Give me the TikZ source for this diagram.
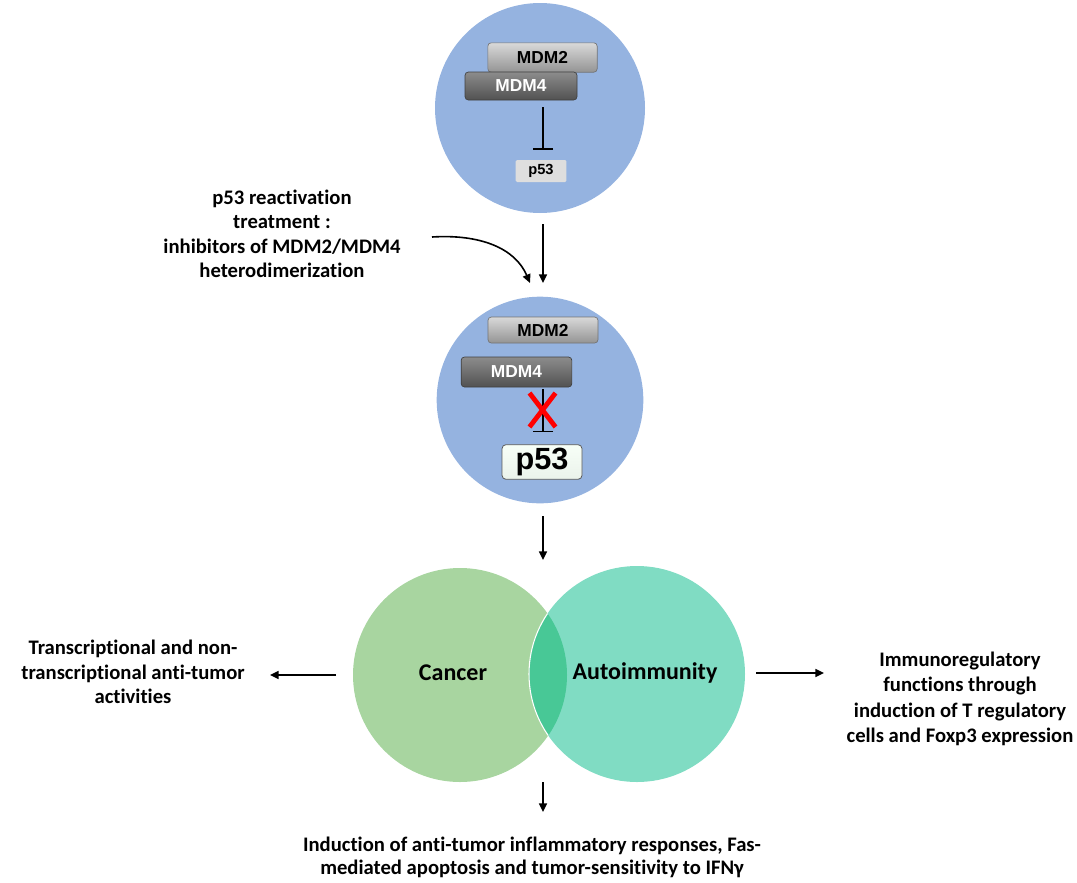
\documentclass[tikz,border=0pt]{standalone}
\usepackage{fontspec}
\setmainfont{Carlito}[Ligatures=NoCommon]
\newfontfamily\arialf{Liberation Sans}
\usetikzlibrary{arrows.meta,calc}
\definecolor{cellblue}{HTML}{95B3E0}
\definecolor{cancerg}{HTML}{A8D5A0}
\definecolor{autog}{HTML}{80DCC3}
\definecolor{interg}{HTML}{48C896}
\tikzset{
  lbl/.style={font=\bfseries\fontsize{15.5}{18.4}\selectfont, align=center, text=black},
  rlbl/.style={font=\bfseries\fontsize{15.5}{19}\selectfont, align=center, text=black},
  blbl/.style={font=\bfseries\fontsize{15.5}{17.4}\selectfont, align=center, text=black},
  big/.style={font=\bfseries\fontsize{18}{22}\selectfont, text=black},
  mdmtwo/.style={rounded corners=2.5pt, draw=black!55, line width=0.5pt, top color=black!15, bottom color=black!42,
     font=\arialf\bfseries\fontsize{13}{14}\selectfont, text=black, inner sep=0pt},
  mdmfour/.style={rounded corners=2.5pt, draw=black!75, line width=0.5pt, top color=black!45, bottom color=black!68,
     font=\arialf\bfseries\fontsize{13}{14}\selectfont, text=white, inner sep=0pt},
  ptop/.style={fill=black!13, rounded corners=1pt, font=\arialf\bfseries\fontsize{11}{12}\selectfont, inner sep=0pt,
     minimum width=38pt, minimum height=16.5pt},
  pbig/.style={rounded corners=3pt, draw=black!65, line width=0.6pt, top color=green!3!white, bottom color=green!40!black!8!white,
     font=\arialf\bfseries\fontsize{23}{25}\selectfont, inner sep=0pt, minimum width=60pt, minimum height=26pt},
  arr/.style={line width=1.2pt, -{Triangle[length=6.5pt,width=6pt]}},
  inh/.style={line width=1.2pt, -{Bar[width=15pt,line width=1.2pt]}}
}
\begin{document}
\begin{tikzpicture}[x=0.75pt,y=-0.75pt]
\useasboundingbox (0,0) rectangle (1077,882);
% top cell
\fill[cellblue] (540,108) circle[radius=78.75pt];
\node[mdmtwo, minimum width=82pt, minimum height=22pt] (m2a) at (542.5,57.5) {MDM2};
\node[mdmfour, minimum width=84pt, minimum height=21pt] (m4a) at (521,86) {MDM4};
\node[ptop] (p53a) at (541,171) {p53};
\coordinate (ia) at (543,107);
\draw[inh, shorten >=7.5pt] (ia) -- (p53a.north -| ia);
% second cell
\fill[cellblue] (540,400) circle[radius=77.5pt];
\node[mdmtwo, minimum width=82.5pt, minimum height=19.5pt] (m2b) at (543,330) {MDM2};
\node[mdmfour, minimum width=83pt, minimum height=22.5pt] (m4b) at (516.5,372) {MDM4};
\node[pbig] (p53b) at (542,462) {p53};
\coordinate (ib) at (543,389);
\draw[inh, shorten >=9pt] (ib) -- (p53b.north -| ib);
\coordinate (xc) at (542.5,410);
\draw[red, line width=3.6pt] ($(xc)+(-13,-17)$) -- ($(xc)+(13,17)$);
\draw[red, line width=3.6pt] ($(xc)+(13,-17)$) -- ($(xc)+(-13,17)$);
% arrows between cells
\coordinate (c1b) at (543,224);
\coordinate (c2t) at (543,283);
\draw[arr] (c1b) -- (c2t);
\node[lbl] (treat) at (282,234) {p53 reactivation\\treatment :\\inhibitors of MDM2/MDM4\\heterodimerization};
\coordinate (cs) at (432,237);
\coordinate (ce) at (530,283);
\draw[arr] (cs) .. controls (480,234) and (515,248) .. (ce);
% Venn
\fill[cancerg] (460,675) circle[radius=80.25pt];
\fill[autog] (637,674) circle[radius=81pt];
\begin{scope}
  \clip (460,675) circle[radius=80.25pt];
  \fill[interg] (637,674) circle[radius=81pt];
  \draw[white, line width=0.8pt] (637,674) circle[radius=81pt];
\end{scope}
\node[big] (cancer) at (453,673) {Cancer};
\node[big] (auto) at (645,673) {Autoimmunity};
\coordinate (c2b) at (543,516);
\coordinate (vt) at (543,560);
\draw[arr] (c2b) -- (vt);
% outputs
\node[lbl] (left) at (133,672) {Transcriptional and non-\\transcriptional anti-tumor\\activities};
\node[rlbl] (right) at (960,699) {Immunoregulatory\\functions through\\induction of T regulatory\\cells and Foxp3 expression};
\node[blbl] (bottom) at (532,857) {Induction of anti-tumor inflammatory responses, Fas-\\mediated apoptosis and tumor-sensitivity to IFNγ};
\coordinate (la) at (336,675);
\coordinate (lb) at (270,675);
\draw[arr] (la) -- (lb);
\coordinate (ra) at (756,673);
\coordinate (rb) at (824,673);
\draw[arr] (ra) -- (rb);
\coordinate (ba) at (543,782);
\coordinate (bb) at (543,812);
\draw[arr] (ba) -- (bb);
\end{tikzpicture}
\end{document}
